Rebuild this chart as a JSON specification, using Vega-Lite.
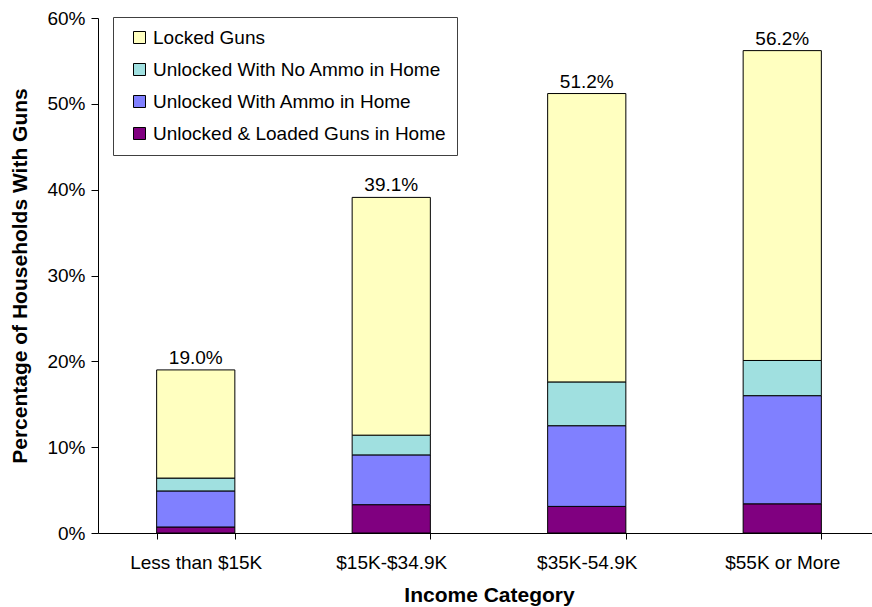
{
  "$schema": "https://vega.github.io/schema/vega-lite/v6.json",
  "width": 782,
  "height": 515,
  "autosize": {"type": "none"},
  "padding": {"left": 98, "top": 18, "right": 0, "bottom": 74},
  "background": "white",
  "config": {"font": "Liberation Sans", "view": {"stroke": null}},
  "datasets": {
    "parts": [
      {"income": "Less than $15K", "type": "Unlocked & Loaded Guns in Home", "rank": 1, "share": 0.007},
      {"income": "Less than $15K", "type": "Unlocked With Ammo in Home", "rank": 2, "share": 0.042},
      {"income": "Less than $15K", "type": "Unlocked With No Ammo in Home", "rank": 3, "share": 0.015},
      {"income": "Less than $15K", "type": "Locked Guns", "rank": 4, "share": 0.126},
      {"income": "$15K-$34.9K", "type": "Unlocked & Loaded Guns in Home", "rank": 1, "share": 0.033},
      {"income": "$15K-$34.9K", "type": "Unlocked With Ammo in Home", "rank": 2, "share": 0.058},
      {"income": "$15K-$34.9K", "type": "Unlocked With No Ammo in Home", "rank": 3, "share": 0.023},
      {"income": "$15K-$34.9K", "type": "Locked Guns", "rank": 4, "share": 0.277},
      {"income": "$35K-54.9K", "type": "Unlocked & Loaded Guns in Home", "rank": 1, "share": 0.031},
      {"income": "$35K-54.9K", "type": "Unlocked With Ammo in Home", "rank": 2, "share": 0.094},
      {"income": "$35K-54.9K", "type": "Unlocked With No Ammo in Home", "rank": 3, "share": 0.051},
      {"income": "$35K-54.9K", "type": "Locked Guns", "rank": 4, "share": 0.336},
      {"income": "$55K or More", "type": "Unlocked & Loaded Guns in Home", "rank": 1, "share": 0.034},
      {"income": "$55K or More", "type": "Unlocked With Ammo in Home", "rank": 2, "share": 0.126},
      {"income": "$55K or More", "type": "Unlocked With No Ammo in Home", "rank": 3, "share": 0.041},
      {"income": "$55K or More", "type": "Locked Guns", "rank": 4, "share": 0.361}
    ],
    "totals": [
      {"income": "Less than $15K", "total": 0.190},
      {"income": "$15K-$34.9K", "total": 0.391},
      {"income": "$35K-54.9K", "total": 0.512},
      {"income": "$55K or More", "total": 0.562}
    ]
  },
  "layer": [
    {
      "data": {"name": "parts"},
      "mark": {"type": "bar", "stroke": "black", "strokeWidth": 1, "opacity": 1},
      "encoding": {
        "x": {
          "field": "income", "type": "nominal",
          "sort": ["Less than $15K", "$15K-$34.9K", "$35K-54.9K", "$55K or More"],
          "scale": {"paddingInner": 0.6, "paddingOuter": 0.3},
          "axis": {
            "title": "Income Category", "titleFontSize": 21, "titleFontWeight": "bold", "titleColor": "black",
            "titlePadding": 12,
            "labelAngle": 0, "labelFontSize": 19, "labelColor": "black", "labelPadding": 14,
            "tickBand": "extent", "tickSize": 6, "tickColor": "black", "domainColor": "black", "grid": false
          }
        },
        "y": {
          "field": "share", "type": "quantitative", "stack": "zero",
          "scale": {"domain": [0, 0.6], "nice": false},
          "axis": {
            "title": "Percentage of Households With Guns", "titleFontSize": 21, "titleFontWeight": "bold", "titleColor": "black",
            "titlePadding": 16,
            "values": [0, 0.1, 0.2, 0.3, 0.4, 0.5, 0.6], "format": ".0%",
            "labelFontSize": 19, "labelColor": "black", "labelPadding": 6,
            "tickSize": 7, "tickColor": "black", "domainColor": "black", "grid": false
          }
        },
        "color": {
          "field": "type", "type": "nominal",
          "sort": ["Locked Guns", "Unlocked With No Ammo in Home", "Unlocked With Ammo in Home", "Unlocked & Loaded Guns in Home"],
          "scale": {
            "domain": ["Locked Guns", "Unlocked With No Ammo in Home", "Unlocked With Ammo in Home", "Unlocked & Loaded Guns in Home"],
            "range": ["#FFFFC0", "#A0E0E0", "#8080FF", "#800080"]
          },
          "legend": {
            "title": null, "orient": "none", "legendX": 15, "legendY": -1,
            "fillColor": "white", "strokeColor": "#404040", "padding": 11,
            "symbolType": "square", "symbolSize": 144, "symbolStrokeColor": "black", "symbolStrokeWidth": 1,
            "symbolOpacity": 1, "symbolOffset": 6,
            "labelFontSize": 19, "labelColor": "black", "labelOffset": 4, "rowPadding": 12, "labelLimit": 400
          }
        },
        "order": {"field": "rank", "type": "quantitative"}
      }
    },
    {
      "data": {"name": "totals"},
      "mark": {"type": "text", "baseline": "bottom", "dy": -2, "fontSize": 19, "color": "black"},
      "encoding": {
        "x": {"field": "income", "type": "nominal", "sort": ["Less than $15K", "$15K-$34.9K", "$35K-54.9K", "$55K or More"]},
        "y": {"field": "total", "type": "quantitative"},
        "text": {"field": "total", "type": "quantitative", "format": ".1%"}
      }
    }
  ]
}
